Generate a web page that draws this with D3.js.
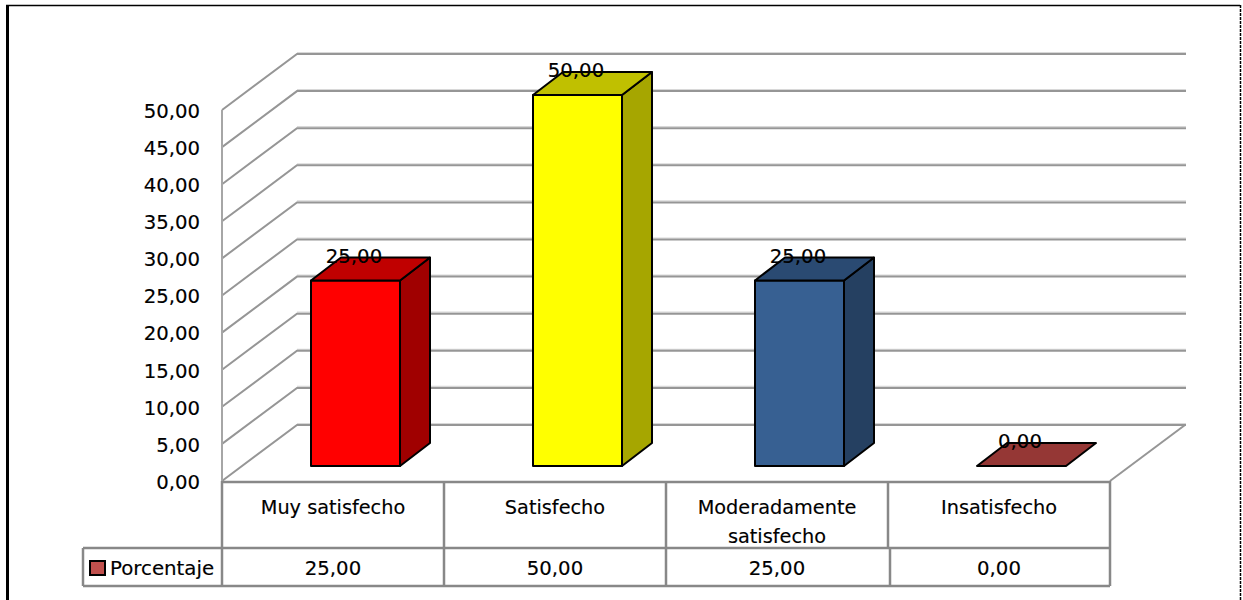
<!DOCTYPE html>
<html>
<head>
<meta charset="utf-8">
<script src="https://cdn.jsdelivr.net/npm/d3@7/dist/d3.min.js"></script>
<style>
  html, body { margin: 0; padding: 0; background: #fff; }
  svg { display: block; }
  text { font-family: "DejaVu Sans", sans-serif; fill: #000; stroke: #000; stroke-width: 0.15px; }
</style>
</head>
<body>
<svg id="chart" width="1243" height="600"></svg>
<script>
// Survey results: percentage of respondents by satisfaction level
const categories = ["Muy satisfecho", "Satisfecho", "Moderadamente satisfecho", "Insatisfecho"];
const values = [25, 50, 25, 0];
const seriesName = "Porcentaje";
const yTicks = [0, 5, 10, 15, 20, 25, 30, 35, 40, 45, 50];
const frontColors = ["#ff0000", "#ffff00", "#376092", "#953735"];
const topColors = ["#c00000", "#c0c000", "#2a4a72", "#953735"];
const sideColors = ["#a00000", "#a6a600", "#254061", "#6f2a28"];

const svg = d3.select("#chart");
const fmt = d3.formatLocale({ decimal: ",", thousands: ".", grouping: [3], currency: ["", ""] }).format(".2f");

const plot = { left: 222, right: 1110, bottom: 481, top: 110 };
const wallDepth = { dx: 75, dy: -56 };
const barDepth = { dx: 30, dy: -23 };
const barLift = 15, barInset = 89, barWidth = 89;
const table = { legendLeft: 83, headTop: 482, rowTop: 548, rowBottom: 586 };
const gridColor = "#969696", tableColor = "#888888", shade = "#d8d8d8";

const x = d3.scaleBand().domain(categories).range([plot.left, plot.right]);
const y = d3.scaleLinear().domain([0, 50]).range([plot.bottom, plot.top]);

// Outer frame of the chart area
const frame = svg.append("g");
frame.append("path").attr("d", "M6,5.5H1240").attr("stroke", "#000").attr("stroke-width", 1.5);
frame.append("path").attr("d", "M7.5,5V600").attr("stroke", "#000").attr("stroke-width", 3);
frame.append("path").attr("d", "M1240.5,5V600").attr("stroke", "#000").attr("stroke-width", 1.5).attr("stroke-dasharray", "3 1");

// Back wall, side wall and floor of the 3D box
const grid = svg.append("g").attr("fill", "none");
const backRight = plot.right + wallDepth.dx + 1;
yTicks.forEach(t => {
  const yy = y(t), by = yy + wallDepth.dy, bx = plot.left + wallDepth.dx;
  grid.append("path").attr("d", `M${bx},${by - 1.5}H${backRight}`).attr("stroke", shade).attr("stroke-width", 1.2);
  grid.append("path").attr("d", `M${plot.left},${yy}L${bx},${by}H${backRight}`).attr("stroke", gridColor).attr("stroke-width", 2);
});
grid.append("path").attr("d", `M${plot.left},${y(50)}V${y(0)}`).attr("stroke", "#a6a6a6").attr("stroke-width", 2);
grid.append("path")
  .attr("d", `M${plot.right},${y(0)}L${plot.right + wallDepth.dx},${y(0) + wallDepth.dy}`)
  .attr("stroke", gridColor).attr("stroke-width", 2);

// Value axis labels
const yAxis = d3.axisLeft(y).tickValues(yTicks).tickFormat(fmt).tickSize(0).tickPadding(0);
const axisG = svg.append("g").attr("transform", "translate(200,1)").call(yAxis);
axisG.select(".domain").remove();
axisG.selectAll("text").attr("font-size", 19.7).attr("font-family", '"DejaVu Sans", sans-serif').attr("dy", "0.32em");

// Extruded bars: front face, top face, side face
const bars = svg.append("g").attr("stroke", "#000").attr("stroke-width", 2).attr("stroke-linejoin", "round");
const barGeom = categories.map((c, i) => {
  const x0 = x(c) + barInset, x1 = x0 + barWidth;
  const y0 = y(0) - barLift, y1 = y(values[i]) - barLift;
  return { x0, x1, y0, y1, i };
});
barGeom.forEach(b => {
  const { dx, dy } = barDepth;
  if (b.y0 !== b.y1) {
    bars.append("path").attr("fill", sideColors[b.i])
      .attr("d", `M${b.x1},${b.y1}L${b.x1 + dx},${b.y1 + dy}V${b.y0 + dy}L${b.x1},${b.y0}Z`);
    bars.append("path").attr("fill", frontColors[b.i])
      .attr("d", `M${b.x0},${b.y1}H${b.x1}V${b.y0}H${b.x0}Z`);
  }
  bars.append("path").attr("fill", topColors[b.i])
    .attr("d", `M${b.x0},${b.y1}H${b.x1}L${b.x1 + dx},${b.y1 + dy}H${b.x0 + dx}Z`);
});

// Data labels above each bar
svg.append("g").selectAll("text").data(barGeom).join("text")
  .attr("x", d => d.x0 + 43).attr("y", d => d.y1 - 18)
  .attr("text-anchor", "middle").attr("font-size", 19.7)
  .text(d => fmt(values[d.i]));

// Data table beneath the plot
const tbl = svg.append("g").attr("fill", "none").attr("stroke", tableColor).attr("stroke-width", 2.5);
tbl.append("path").attr("d", `M${plot.left},${table.headTop}H${plot.right}`);
tbl.append("path").attr("d", `M${table.legendLeft},${table.rowTop}H${plot.right}`);
tbl.append("path").attr("d", `M${table.legendLeft},${table.rowBottom}H${plot.right}`);
tbl.append("path").attr("d", `M${table.legendLeft},${table.rowTop}V${table.rowBottom}`);
tbl.append("path").attr("d", `M${plot.left},${plot.bottom}V${table.rowBottom}`);
categories.forEach((c, i) => {
  const xr = x(c) + x.bandwidth();
  // The third column's divider steps slightly between the two table rows
  const step = i === 2 ? 2 : 0;
  tbl.append("path").attr("d", `M${xr},${plot.bottom}V${table.rowTop}M${xr + step},${table.rowTop}V${table.rowBottom}`);
});

const labelG = svg.append("g").attr("text-anchor", "middle").attr("font-size", 19.3);
categories.forEach((c, i) => {
  const cx = x(c) + x.bandwidth() / 2;
  const words = c === "Moderadamente satisfecho" ? c.split(" ") : [c];
  words.forEach((w, k) => {
    labelG.append("text").attr("x", cx).attr("y", 514 + k * 29).text(w);
  });
  labelG.append("text").attr("x", cx).attr("y", 575).attr("font-size", 19.7).text(fmt(values[i]));
});

// Legend key in the first table column
svg.append("rect").attr("x", 90).attr("y", 561).attr("width", 15).attr("height", 14)
  .attr("fill", "#c0504d").attr("stroke", "#000").attr("stroke-width", 2);
svg.append("text").attr("x", 110).attr("y", 575).attr("font-size", 19.8).text(seriesName);
</script>
</body>
</html>
